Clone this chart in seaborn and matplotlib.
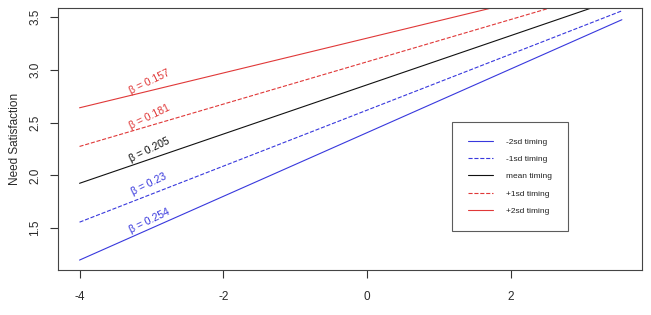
import numpy as np
import pandas as pd
import matplotlib
matplotlib.use("Agg")
import matplotlib.pyplot as plt
import seaborn as sns

# ---- data ----
series = ["-2sd timing", "-1sd timing", "mean timing", "+1sd timing", "+2sd timing"]
x_ends = [-4.0, 3.55]
y_start = [1.198, 1.557, 1.925, 2.274, 2.640]
y_end = [3.474, 3.558, 3.684, 3.786, 3.884]
betas = ["0.254", "0.23", "0.205", "0.181", "0.157"]
label_x = [-3.02, -3.04, -3.02, -3.02, -3.02]
label_y = [1.565, 1.915, 2.245, 2.556, 2.886]
colors = ["#3838dd", "#3838dd", "#111111", "#e03838", "#e03838"]
styles = ["-", "--", "-", "--", "-"]
xticks = [-4, -2, 0, 2]
yticks = [1.5, 2.0, 2.5, 3.0, 3.5]

rows = []
for s, a, b in zip(series, y_start, y_end):
    rows.append({"series": s, "x": x_ends[0], "y": a})
    rows.append({"series": s, "x": x_ends[1], "y": b})
df = pd.DataFrame(rows)

sns.set_style("white")
plt.rcParams['font.family'] = ['Liberation Sans', 'DejaVu Sans']

fig = plt.figure(figsize=(6.51, 3.15), dpi=100)
ax = fig.add_axes([58/651, (315-270)/315, (642-58)/651, (270-8)/315])

for s, c, ls in zip(series, colors, styles):
    sub = df[df["series"] == s]
    sns.lineplot(data=sub, x="x", y="y", ax=ax, color=c, linestyle=ls,
                 linewidth=0.8, label=s)

for b, lx, ly, c in zip(betas, label_x, label_y, colors):
    ax.text(lx, ly, "\u03b2 = " + b, color=c, fontsize=7.5, rotation=26,
            ha="center", va="center", rotation_mode="anchor")

ax.set_xlim(-4.30, 3.83)
ax.set_ylim(1.104, 3.585)
ax.set_xticks(xticks)
ax.set_xticklabels([str(t) for t in xticks])
ax.set_yticks(yticks)
ax.set_yticklabels([f"{t:.1f}" for t in yticks], rotation=90, va="center")
ax.tick_params(axis="both", direction="out", length=6, width=0.8,
               colors="#333333", labelsize=8.5, labelcolor="#2a2a2a",
               bottom=True, left=True)
ax.tick_params(axis="x", pad=9)
ax.tick_params(axis="y", pad=6)
for sp in ax.spines.values():
    sp.set_color("#444444")
    sp.set_linewidth(0.8)
ax.set_xlabel("")
ax.set_ylabel("Need Satisfaction", fontsize=8.5, color="#2a2a2a", labelpad=6)

leg = ax.legend(loc="upper left", bbox_to_anchor=(0.675, 0.565), fontsize=6.0,
                frameon=True, fancybox=False, edgecolor="#333333",
                handlelength=2.9, handletextpad=1.6, labelspacing=1.12,
                borderpad=1.95, borderaxespad=0)
leg.get_frame().set_linewidth(0.8)
for t in leg.get_texts():
    t.set_color("#222222")

fig.savefig("out.png", dpi=100)
